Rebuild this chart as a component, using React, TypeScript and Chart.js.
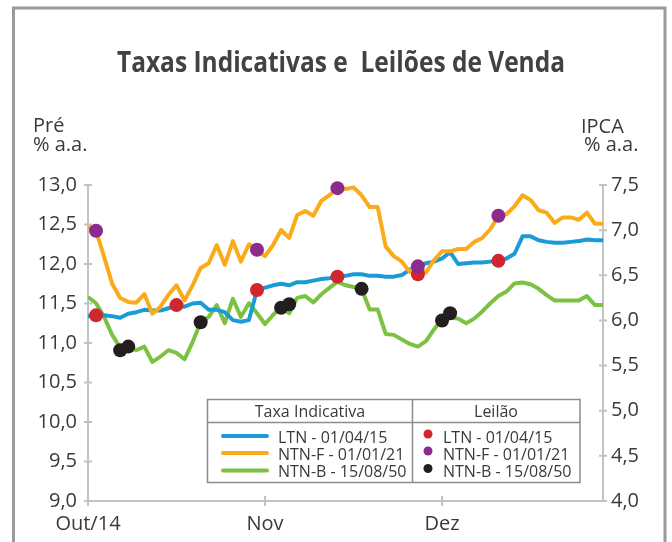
import { useEffect, useRef } from 'react';
import { Chart, registerables } from 'chart.js';

Chart.register(...registerables);

const xTickIndex = [0, 22, 44];
const xTickLabels = ['Out/14', 'Nov', 'Dez'];

const ltn = [
  11.34, 11.35, 11.35, 11.34, 11.32, 11.37, 11.39, 11.42, 11.41, 11.41,
  11.44, 11.47, 11.46, 11.50, 11.51, 11.42, 11.42, 11.39, 11.29, 11.27,
  11.29, 11.67, 11.70, 11.73, 11.75, 11.73, 11.77, 11.77, 11.79, 11.81,
  11.82, 11.84, 11.85, 11.87, 11.87, 11.85, 11.85, 11.84, 11.84, 11.86,
  11.93, 11.97, 12.01, 12.03, 12.07, 12.15, 12.00, 12.01, 12.02, 12.02,
  12.03, 12.04, 12.07, 12.13, 12.35, 12.35, 12.30, 12.28, 12.27, 12.27,
  12.28, 12.29, 12.31, 12.30, 12.30,
];

const ntnf = [
  12.47, 12.42, 12.09, 11.75, 11.57, 11.52, 11.51, 11.62, 11.37, 11.46,
  11.61, 11.73, 11.54, 11.73, 11.95, 12.01, 12.24, 11.99, 12.29, 12.03,
  12.25, 12.18, 12.10, 12.24, 12.43, 12.33, 12.62, 12.67, 12.61, 12.80,
  12.87, 12.96, 12.95, 12.97, 12.87, 12.72, 12.72, 12.22, 12.10, 12.03,
  11.90, 11.96, 11.89, 12.05, 12.16, 12.16, 12.19, 12.19, 12.28, 12.33,
  12.44, 12.61, 12.63, 12.73, 12.87, 12.81, 12.68, 12.65, 12.52, 12.59,
  12.59, 12.56, 12.65, 12.51, 12.51,
];

const ntnb = [
  6.26, 6.19, 6.04, 5.84, 5.70, 5.71, 5.67, 5.71, 5.54, 5.60,
  5.67, 5.64, 5.57, 5.76, 5.98, 6.04, 6.17, 5.97, 6.24, 6.04,
  6.19, 6.08, 5.96, 6.06, 6.15, 6.08, 6.25, 6.27, 6.20, 6.29,
  6.36, 6.43, 6.39, 6.37, 6.35, 6.12, 6.12, 5.85, 5.84, 5.79,
  5.74, 5.71, 5.77, 5.90, 6.02, 6.03, 6.02, 5.97, 6.02, 6.10,
  6.19, 6.27, 6.32, 6.41, 6.42, 6.40, 6.35, 6.28, 6.22, 6.22,
  6.22, 6.22, 6.27, 6.17, 6.17,
];

const ltnAuctionIdx = [1, 11, 21, 31, 41, 51];
const ltnAuctionVal = [11.35, 11.48, 11.67, 11.84, 11.87, 12.04];
const ntnfAuctionIdx = [1, 21, 31, 41, 51];
const ntnfAuctionVal = [12.42, 12.18, 12.96, 11.97, 12.61];
const ntnbAuctionIdx = [4, 5, 14, 24, 25, 34, 44, 45];
const ntnbAuctionVal = [5.67, 5.71, 5.98, 6.14, 6.18, 6.35, 6.0, 6.08];

const seriesNames = ['LTN - 01/04/15', 'NTN-F - 01/01/21', 'NTN-B - 15/08/50'];
const titleText = 'Taxas Indicativas e  Leilões de Venda';
const leftAxisTitle = ['Pré', '% a.a.'];
const rightAxisTitle = ['IPCA', '% a.a.'];
const legendHeaders = ['Taxa Indicativa', 'Leilão'];

const BLUE = '#1a9ad7';
const ORANGE = '#fbab19';
const GREEN = '#7cc242';
const RED = '#d0262d';
const PURPLE = '#8c2a8e';
const BLACK = '#231f20';
const AXIS = '#c3c3c3';
const TEXT = '#3a3a3a';
const FONT = '"Open Sans", "Noto Sans", sans-serif';

const fmt = (v: number) => v.toFixed(1).replace('.', ',');

const decorPlugin = {
  id: 'decor',
  beforeDatasetsDraw(chart: any) {
    const { ctx, chartArea } = chart;
    const { left, right, top, bottom } = chartArea;
    ctx.save();
    ctx.strokeStyle = AXIS;
    ctx.lineWidth = 2;
    ctx.beginPath();
    ctx.moveTo(left, top);
    ctx.lineTo(left, bottom);
    ctx.lineTo(right, bottom);
    ctx.moveTo(right, top);
    ctx.lineTo(right, bottom);
    ctx.stroke();
    ctx.beginPath();
    for (const t of chart.scales.y.ticks) {
      const py = chart.scales.y.getPixelForValue(t.value);
      ctx.moveTo(left - 4, py);
      ctx.lineTo(left + 4, py);
    }
    for (const t of chart.scales.y2.ticks) {
      const py = chart.scales.y2.getPixelForValue(t.value);
      ctx.moveTo(right - 4, py);
      ctx.lineTo(right + 4, py);
    }
    for (const v of xTickIndex) {
      const px = chart.scales.x.getPixelForValue(v);
      ctx.moveTo(px, bottom - 5);
      ctx.lineTo(px, bottom + 5);
    }
    ctx.stroke();
    ctx.restore();
  },
  afterDraw(chart: any) {
    const { ctx } = chart;
    ctx.save();
    // frame
    ctx.strokeStyle = '#9a9a9a';
    ctx.lineWidth = 3;
    ctx.beginPath();
    ctx.moveTo(13.5, 560);
    ctx.lineTo(13.5, 8);
    ctx.lineTo(665, 8);
    ctx.lineTo(665, 560);
    ctx.stroke();

    // title
    ctx.fillStyle = '#424242';
    ctx.font = `700 29px ${FONT}`;
    ctx.textAlign = 'center';
    ctx.textBaseline = 'alphabetic';
    const tw = ctx.measureText(titleText).width;
    ctx.save();
    ctx.translate(341, 72);
    ctx.scale(448 / tw, 1);
    ctx.fillText(titleText, 0, 0);
    ctx.restore();

    // axis titles
    ctx.fillStyle = TEXT;
    ctx.font = `20px ${FONT}`;
    ctx.textAlign = 'left';
    ctx.fillText(leftAxisTitle[0], 33, 132);
    ctx.fillText(leftAxisTitle[1], 33, 151);
    ctx.fillText(rightAxisTitle[0], 581, 133);
    ctx.fillText(rightAxisTitle[1], 584, 151);

    // legend table
    const bx = 207.5, by = 399.5, bw = 372.5, bh = 83;
    ctx.fillStyle = '#ffffff';
    ctx.fillRect(bx, by, bw, bh);
    ctx.strokeStyle = '#8c8c8c';
    ctx.lineWidth = 1.5;
    ctx.strokeRect(bx, by, bw, bh);
    ctx.beginPath();
    ctx.moveTo(bx, 422.5);
    ctx.lineTo(bx + bw, 422.5);
    ctx.moveTo(412.5, by);
    ctx.lineTo(412.5, by + bh);
    ctx.stroke();
    ctx.fillStyle = TEXT;
    ctx.font = `16px ${FONT}`;
    ctx.textAlign = 'center';
    ctx.fillText(legendHeaders[0], 310, 417);
    ctx.fillText(legendHeaders[1], 496, 417);
    const lineColors = [BLUE, ORANGE, GREEN];
    const dotColors = [RED, PURPLE, BLACK];
    const rowY = [436, 453, 470.5];
    for (let i = 0; i < 3; i++) {
      ctx.strokeStyle = lineColors[i];
      ctx.lineWidth = 4;
      ctx.lineCap = 'round';
      ctx.beginPath();
      ctx.moveTo(223, rowY[i]);
      ctx.lineTo(267, rowY[i]);
      ctx.stroke();
      ctx.fillStyle = dotColors[i];
      ctx.beginPath();
      ctx.arc(428, rowY[i] - 2, 4.5, 0, Math.PI * 2);
      ctx.fill();
      ctx.fillStyle = TEXT;
      ctx.textAlign = 'left';
      ctx.fillText(seriesNames[i], 278, rowY[i] + 6.5);
      ctx.fillText(seriesNames[i], 443, rowY[i] + 6.5);
    }
    ctx.restore();
  },
};

export default function App() {
  const ref = useRef<HTMLCanvasElement>(null);
  useEffect(() => {
    if (!ref.current) return;
    Chart.defaults.font.family = FONT;
    const toXY = (vals: number[]) => vals.map((v, i) => ({ x: i, y: v }));
    const toDots = (idx: number[], vals: number[]) => idx.map((i, k) => ({ x: i, y: vals[k] }));
    const lineDs = (label: string, data: any, color: string, axis: string, order: number) => ({
      label,
      data,
      borderColor: color,
      backgroundColor: color,
      borderWidth: 4,
      pointRadius: 0,
      tension: 0,
      borderJoinStyle: 'round' as const,
      yAxisID: axis,
      order,
    });
    const dotDs = (label: string, data: any, color: string, axis: string) => ({
      label,
      data,
      showLine: false,
      pointRadius: 7,
      pointBorderWidth: 0,
      pointBackgroundColor: color,
      pointBorderColor: color,
      yAxisID: axis,
      clip: false,
      order: 0,
    });
    const chart = new Chart(ref.current, {
      type: 'line',
      data: {
        datasets: [
          dotDs('Leilão NTN-F', toDots(ntnfAuctionIdx, ntnfAuctionVal), PURPLE, 'y'),
          dotDs('Leilão LTN', toDots(ltnAuctionIdx, ltnAuctionVal), RED, 'y'),
          dotDs('Leilão NTN-B', toDots(ntnbAuctionIdx, ntnbAuctionVal), BLACK, 'y2'),
          lineDs(seriesNames[1], toXY(ntnf), ORANGE, 'y', 1),
          lineDs(seriesNames[0], toXY(ltn), BLUE, 'y', 2),
          lineDs(seriesNames[2], toXY(ntnb), GREEN, 'y2', 3),
        ],
      },
      options: {
        responsive: false,
        animation: false,
        devicePixelRatio: 1,
        layout: { padding: { top: 185, left: 0, right: 0, bottom: 0 } },
        plugins: { legend: { display: false }, tooltip: { enabled: false }, title: { display: false } },
        scales: {
          x: {
            type: 'linear',
            min: 0,
            max: 64,
            grid: { display: false, drawTicks: false },
            border: { display: false },
            afterBuildTicks: (ax: any) => {
              ax.ticks = xTickIndex.map((v) => ({ value: v }));
            },
            afterFit: (ax: any) => {
              ax.height = 41;
            },
            ticks: {
              autoSkip: false,
              maxRotation: 0,
              padding: 11,
              color: TEXT,
              font: { size: 20 },
              callback: (v: any) => {
                const k = xTickIndex.indexOf(Number(v));
                return k >= 0 ? xTickLabels[k] : '';
              },
            },
          },
          y: {
            position: 'left',
            min: 9,
            max: 13,
            grid: { display: false, drawTicks: false },
            border: { display: false },
            afterFit: (ax: any) => {
              ax.width = 88;
            },
            ticks: {
              stepSize: 0.5,
              padding: 11,
              color: TEXT,
              font: { size: 20 },
              callback: (v: any) => fmt(Number(v)),
            },
          },
          y2: {
            position: 'right',
            min: 4,
            max: 7.5,
            grid: { display: false, drawTicks: false },
            border: { display: false },
            afterFit: (ax: any) => {
              ax.width = 69;
            },
            ticks: {
              stepSize: 0.5,
              padding: 8,
              color: TEXT,
              font: { size: 20 },
              callback: (v: any) => fmt(Number(v)),
            },
          },
        },
      },
      plugins: [decorPlugin],
    } as any);
    return () => chart.destroy();
  }, []);
  return (
    <div style={{ position: 'fixed', left: 0, top: 0, width: 672, height: 542, background: '#fff' }}>
      <canvas ref={ref} width={672} height={542} />
    </div>
  );
}
